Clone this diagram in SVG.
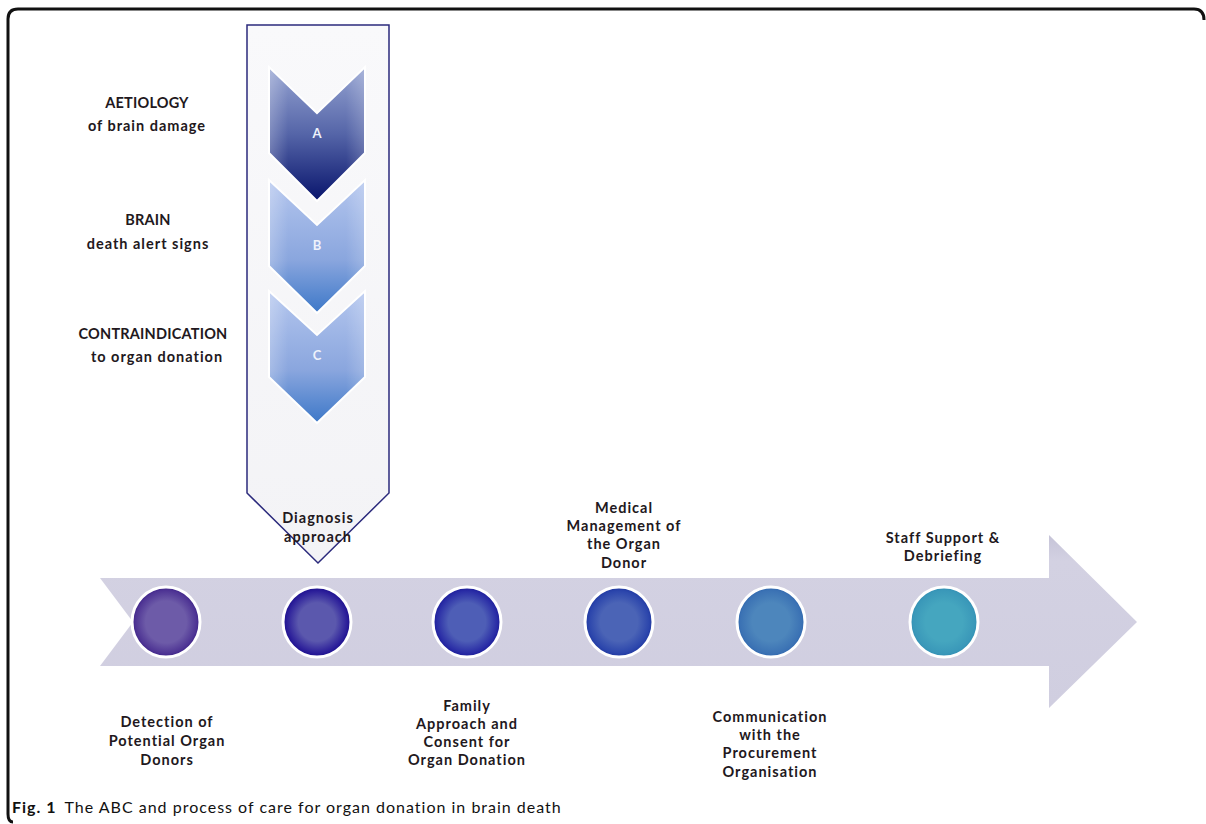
<svg xmlns="http://www.w3.org/2000/svg" width="1206" height="824" viewBox="0 0 1206 824">
  <style>
    .lbl { font-family: Lato, "Liberation Sans", sans-serif; font-weight: 700; font-size: 14.5px; fill: #221820; text-anchor: middle; letter-spacing: 1px; }
    .caps { letter-spacing: 0.2px; }
    .abc { font-family: Lato, "Liberation Sans", sans-serif; font-weight: 700; font-size: 13px; fill: #eef2fb; text-anchor: middle; }
    .cap { font-family: Lato, "Liberation Sans", sans-serif; font-size: 16px; fill: #111; letter-spacing: 1px; }
    .dot { stroke: #ffffff; stroke-width: 3; }
    .chev { stroke: #ffffff; stroke-width: 2; }
  </style>
  <defs>
    <linearGradient id="band" x1="0" y1="0" x2="0" y2="1">
      <stop offset="0" stop-color="#c6c4d8"/>
      <stop offset="0.15" stop-color="#d3d1e2"/>
      <stop offset="1" stop-color="#d0cee0"/>
    </linearGradient>
    <linearGradient id="panel" x1="0" y1="0" x2="0" y2="1">
      <stop offset="0" stop-color="#f9f9fb"/>
      <stop offset="1" stop-color="#f3f3f6"/>
    </linearGradient>
    <linearGradient id="chevA" x1="0" y1="0" x2="0" y2="1">
      <stop offset="0" stop-color="#96a4d2"/>
      <stop offset="0.5" stop-color="#5565a8"/>
      <stop offset="1" stop-color="#08146c"/>
    </linearGradient>
    <linearGradient id="chevB" x1="0" y1="0" x2="0" y2="1">
      <stop offset="0" stop-color="#b4c6ee"/>
      <stop offset="0.6" stop-color="#8aa6de"/>
      <stop offset="1" stop-color="#3d78c8"/>
    </linearGradient>
    <linearGradient id="chevSide" x1="0" y1="0" x2="1" y2="0">
      <stop offset="0" stop-color="#ffffff" stop-opacity="0.25"/>
      <stop offset="0.2" stop-color="#ffffff" stop-opacity="0"/>
      <stop offset="0.8" stop-color="#ffffff" stop-opacity="0"/>
      <stop offset="1" stop-color="#ffffff" stop-opacity="0.2"/>
    </linearGradient>
    <radialGradient id="d1" cx="0.5" cy="0.5" r="0.5">
      <stop offset="0.6" stop-color="#6d5ba8"/>
      <stop offset="0.9" stop-color="#4e3494"/>
      <stop offset="1" stop-color="#3a1f86"/>
    </radialGradient>
    <radialGradient id="d2" cx="0.5" cy="0.5" r="0.5">
      <stop offset="0.55" stop-color="#5b58ad"/>
      <stop offset="0.88" stop-color="#2c1f9a"/>
      <stop offset="1" stop-color="#1a0c8c"/>
    </radialGradient>
    <radialGradient id="d3" cx="0.5" cy="0.5" r="0.5">
      <stop offset="0.55" stop-color="#4e5eb6"/>
      <stop offset="0.88" stop-color="#2a2da6"/>
      <stop offset="1" stop-color="#1a1a98"/>
    </radialGradient>
    <radialGradient id="d4" cx="0.5" cy="0.5" r="0.5">
      <stop offset="0.55" stop-color="#4b64b6"/>
      <stop offset="0.88" stop-color="#2c46ac"/>
      <stop offset="1" stop-color="#1e36a0"/>
    </radialGradient>
    <radialGradient id="d5" cx="0.5" cy="0.5" r="0.5">
      <stop offset="0.55" stop-color="#4d86bc"/>
      <stop offset="0.9" stop-color="#3b72b4"/>
      <stop offset="1" stop-color="#2e66ae"/>
    </radialGradient>
    <radialGradient id="d6" cx="0.5" cy="0.5" r="0.5">
      <stop offset="0.55" stop-color="#45a6bf"/>
      <stop offset="0.9" stop-color="#3a98b9"/>
      <stop offset="1" stop-color="#2f8db2"/>
    </radialGradient>
  </defs>

  <rect width="1206" height="824" fill="#ffffff"/>

  <!-- figure frame -->
  <path d="M1204 20 Q1204 9 1194 9 L18 9 Q8 9 8 19 L8 814 Q8 822 13 822" fill="none" stroke="#111" stroke-width="3"/>

  <!-- process arrow -->
  <g id="process-arrow">
    <path d="M100 578 L1049 578 L1049 535 L1137 622 L1049 708 L1049 666 L100 666 L133 622 Z" fill="url(#band)"/>
  </g>

  <!-- diagnosis approach panel with ABC chevrons -->
  <g id="diagnosis-panel">
    <path d="M247 25 L389 25 L389 493 L318 563 L247 493 Z" fill="url(#panel)" stroke="#2b2a7c" stroke-width="1.5"/>
    <text class="lbl" x="318" y="523">Diagnosis</text>
    <text class="lbl" x="318" y="542">approach</text>
  </g>

  <g id="chevron-a">
    <path class="chev" d="M269 67 L317 113 L365 67 L365 153 L317 201 L269 153 Z" fill="url(#chevA)"/>
    <path d="M269 67 L317 113 L365 67 L365 153 L317 201 L269 153 Z" fill="url(#chevSide)"/>
    <text class="abc" x="317" y="138">A</text>
  </g>
  <g id="chevron-b">
    <path class="chev" d="M269 180 L317 225 L365 180 L365 266 L317 313 L269 266 Z" fill="url(#chevB)"/>
    <path d="M269 180 L317 225 L365 180 L365 266 L317 313 L269 266 Z" fill="url(#chevSide)"/>
    <text class="abc" x="317" y="250">B</text>
  </g>
  <g id="chevron-c">
    <path class="chev" d="M269 291 L317 335 L365 291 L365 377 L317 423 L269 377 Z" fill="url(#chevB)"/>
    <path d="M269 291 L317 335 L365 291 L365 377 L317 423 L269 377 Z" fill="url(#chevSide)"/>
    <text class="abc" x="317" y="360">C</text>
  </g>

  <!-- ABC descriptions -->
  <g id="label-aetiology">
    <text class="lbl caps" x="147" y="108">AETIOLOGY</text>
    <text class="lbl" x="147" y="131">of brain damage</text>
  </g>
  <g id="label-brain">
    <text class="lbl caps" x="148" y="225">BRAIN</text>
    <text class="lbl" x="148" y="249">death alert signs</text>
  </g>
  <g id="label-contraindication">
    <text class="lbl caps" x="153" y="339">CONTRAINDICATION</text>
    <text class="lbl" x="157" y="362">to organ donation</text>
  </g>

  <!-- process steps -->
  <g id="step-detection">
    <ellipse class="dot" cx="166" cy="622" rx="34" ry="35" fill="url(#d1)"/>
    <text class="lbl" x="167" y="727">Detection of</text>
    <text class="lbl" x="167" y="746">Potential Organ</text>
    <text class="lbl" x="167" y="765">Donors</text>
  </g>
  <g id="step-diagnosis">
    <ellipse class="dot" cx="317" cy="622" rx="34" ry="35" fill="url(#d2)"/>
  </g>
  <g id="step-family">
    <ellipse class="dot" cx="467" cy="622" rx="34" ry="35" fill="url(#d3)"/>
    <text class="lbl" x="467" y="711">Family</text>
    <text class="lbl" x="467" y="729">Approach and</text>
    <text class="lbl" x="467" y="747">Consent for</text>
    <text class="lbl" x="467" y="765">Organ Donation</text>
  </g>
  <g id="step-medical">
    <ellipse class="dot" cx="619" cy="622" rx="34" ry="35" fill="url(#d4)"/>
    <text class="lbl" x="624" y="513">Medical</text>
    <text class="lbl" x="624" y="531">Management of</text>
    <text class="lbl" x="624" y="549">the Organ</text>
    <text class="lbl" x="624" y="568">Donor</text>
  </g>
  <g id="step-communication">
    <ellipse class="dot" cx="771" cy="622" rx="34" ry="35" fill="url(#d5)"/>
    <text class="lbl" x="770" y="722">Communication</text>
    <text class="lbl" x="770" y="740">with the</text>
    <text class="lbl" x="770" y="758">Procurement</text>
    <text class="lbl" x="770" y="777">Organisation</text>
  </g>
  <g id="step-staff">
    <ellipse class="dot" cx="944" cy="622" rx="34" ry="35" fill="url(#d6)"/>
    <text class="lbl" x="943" y="543">Staff Support &amp;</text>
    <text class="lbl" x="943" y="561">Debriefing</text>
  </g>

  <!-- caption -->
  <text class="cap" x="12" y="813"><tspan font-weight="700">Fig. 1</tspan><tspan dx="8">The ABC and process of care for organ donation in brain death</tspan></text>
</svg>
